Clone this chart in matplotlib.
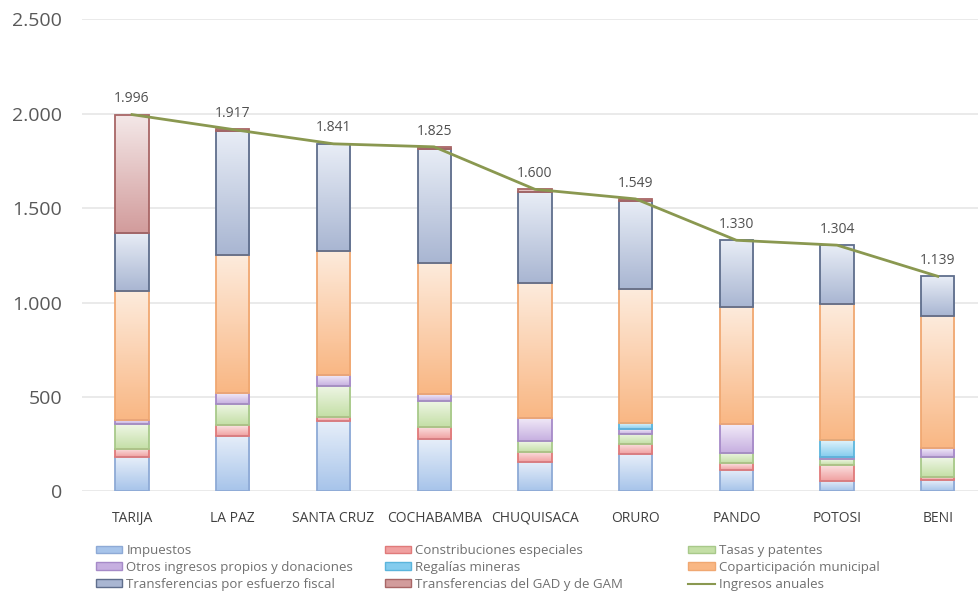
import matplotlib
matplotlib.use('Agg')
import matplotlib.pyplot as plt
import numpy as np
from matplotlib.colors import LinearSegmentedColormap
from matplotlib.patches import Patch
from matplotlib.lines import Line2D

departamentos = ['TARIJA', 'LA PAZ', 'SANTA CRUZ', 'COCHABAMBA', 'CHUQUISACA',
                 'ORURO', 'PANDO', 'POTOSI', 'BENI']

impuestos = [180, 293, 370, 275, 155, 195, 115, 55, 58]
contribuciones = [45, 57, 25, 65, 55, 55, 35, 85, 18]
tasas = [130, 115, 165, 140, 55, 55, 55, 30, 105]
otros = [25, 56, 55, 35, 125, 25, 150, 12, 47]
regalias = [0, 0, 0, 0, 0, 30, 0, 90, 0]
coparticipacion = [680, 729, 660, 695, 715, 710, 620, 720, 700]
transf_esfuerzo = [310, 657, 566, 605, 480, 470, 355, 312, 211]
transf_gad = [626, 10, 0, 10, 15, 9, 0, 0, 0]
ingresos_anuales = [1996, 1917, 1841, 1825, 1600, 1549, 1330, 1304, 1139]

series = [
    ('Impuestos', impuestos, '#e6eef9', '#a7c4ea', '#8eaad6'),
    ('Constribuciones especiales', contribuciones, '#fbe4e4', '#f0a0a0', '#e07a7a'),
    ('Tasas y patentes', tasas, '#eff6e6', '#c4dfa6', '#a8c98a'),
    ('Otros ingresos propios y donaciones', otros, '#f2ebf8', '#c6afe0', '#a68ac8'),
    ('Regalías mineras', regalias, '#e0f3fb', '#84ccee', '#5bb5dc'),
    ('Coparticipación municipal', coparticipacion, '#fdebdc', '#f9b784', '#f0a872'),
    ('Transferencias por esfuerzo fiscal', transf_esfuerzo, '#e8edf6', '#a9b6d2', '#5f6e8c'),
    ('Transferencias del GAD y de GAM', transf_gad, '#f4e8e8', '#d29c9c', '#a86666'),
]

plt.rcParams['font.family'] = ['Open Sans', 'DejaVu Sans']

fig = plt.figure(figsize=(9.79, 6.08), dpi=100)
ax = fig.add_axes([0.0834, 0.192, 0.926, 0.776])

x = np.arange(len(departamentos))
width = 0.33
grad = np.linspace(0, 1, 64).reshape(-1, 1)
bottom = np.zeros(len(departamentos))
handles = {}

for label, vals, top_c, bot_c, edge_c in series:
    vals = np.array(vals, dtype=float)
    bars = ax.bar(x, vals, width, bottom=bottom, facecolor='none',
                  edgecolor=edge_c, linewidth=1.3, zorder=3)
    cmap = LinearSegmentedColormap.from_list(label, [top_c, bot_c])
    # vertical gradient inside each segment, light at the top
    for patch, v in zip(bars.patches, vals):
        if v <= 0:
            patch.set_visible(False)
            continue
        bx, by = patch.get_x(), patch.get_y()
        im = ax.imshow(grad, cmap=cmap, aspect='auto', origin='upper',
                       extent=[bx, bx + patch.get_width(), by, by + patch.get_height()],
                       zorder=2, interpolation='bilinear')
        im.set_clip_path(patch)
    bottom += vals
    handles[label] = Patch(facecolor=bot_c, edgecolor=edge_c, linewidth=1.0)

line, = ax.plot(x, ingresos_anuales, color='#8a9850', linewidth=2, zorder=4)
handles['Ingresos anuales'] = Line2D([], [], color='#8a9850', linewidth=1.5)

for xi, total in zip(x, ingresos_anuales):
    ax.annotate(f'{total:,}'.replace(',', '.'), (xi, total), xytext=(0, 6),
                textcoords='offset points', ha='center', va='bottom',
                fontsize=10, color='#505050')

ax.set_ylim(0, 2500)
ax.set_yticks(range(0, 2501, 500))
ax.set_yticklabels([f'{v:,}'.replace(',', '.') for v in range(0, 2501, 500)])
ax.set_xticks(x)
ax.set_xticklabels(departamentos)
ax.tick_params(axis='y', length=0, pad=14, labelsize=14, labelcolor='#595959')
ax.tick_params(axis='x', length=0, pad=14, labelsize=10, labelcolor='#404040')
ax.grid(axis='y', color='#e6e6e6', linewidth=1.2, zorder=0)
ax.set_axisbelow(True)
for side in ax.spines.values():
    side.set_visible(False)
ax.set_xlim(-0.5, len(departamentos) - 0.5)

columns = [
    ['Impuestos', 'Otros ingresos propios y donaciones', 'Transferencias por esfuerzo fiscal'],
    ['Constribuciones especiales', 'Regalías mineras', 'Transferencias del GAD y de GAM'],
    ['Tasas y patentes', 'Coparticipación municipal', 'Ingresos anuales'],
]
col_x = [0.098, 0.393, 0.703]
for cx, names in zip(col_x, columns):
    leg = fig.legend([handles[n] for n in names], names, loc='upper left',
                     bbox_to_anchor=(cx, 0.105), frameon=False, fontsize=9.5,
                     handlelength=2.0, handleheight=0.55, handletextpad=0.3,
                     labelspacing=0.3, borderaxespad=0, borderpad=0)
    for t in leg.get_texts():
        t.set_color('#707070')

fig.savefig('out.png', dpi=100)
